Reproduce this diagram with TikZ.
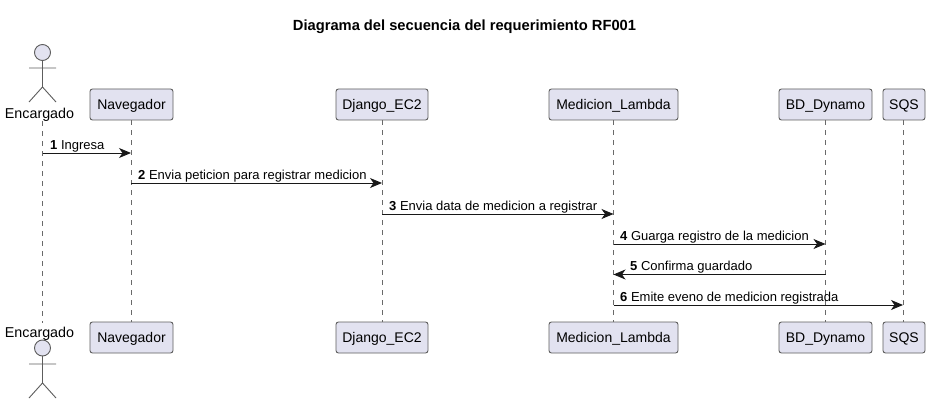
\documentclass[tikz,border=0pt]{standalone}
\usepackage{fontspec}
\setmainfont{Liberation Sans}
\usetikzlibrary{arrows.meta}
\definecolor{partfill}{HTML}{E2E2F0}
\definecolor{partline}{HTML}{181818}
\tikzset{
  part/.style={draw=partline!70, fill=partfill, rounded corners=2.5pt, line width=.9pt,
               minimum height=31pt, inner xsep=0pt, inner sep=0pt, text height=12pt, text depth=2pt,
               font=\fontsize{14}{16}\selectfont},
  stick/.style={draw=partline!70, line width=.9pt},
  life/.style={draw=partline!65, line width=.8pt, dash pattern=on 5pt off 5pt},
  msg/.style={draw=partline, line width=.9pt, -{Stealth[length=12pt,width=10pt,inset=3.5pt]}},
  msgtext/.style={anchor=base west, inner sep=0pt, font=\fontsize{13}{15}\selectfont},
  who/.style={inner sep=0pt, font=\fontsize{14.3}{16}\selectfont}
}
\begin{document}
\begin{tikzpicture}[x=1pt, y=-1pt]
  \useasboundingbox (0,0) rectangle (930,404);
  % title
  \node[inner sep=0pt, font=\fontsize{14.7}{17}\selectfont\bfseries] (title) at (464.5,26.5) {Diagrama del secuencia del requerimiento RF001};
  % participants, top row
  \node[part, minimum width=83pt] (navT) at (131.5,104.5) {Navegador};
  \node[part, minimum width=92pt] (djaT) at (382,104.5) {Django\_EC2};
  \node[part, minimum width=129pt] (medT) at (613.5,104.5) {Medicion\_Lambda};
  \node[part, minimum width=93pt] (bdT) at (825.5,104.5) {BD\_Dynamo};
  \node[part, minimum width=42pt] (sqsT) at (904,104.5) {SQS};
  % participants, bottom row
  \node[part, minimum width=83pt] (navB) at (131.5,337.5) {Navegador};
  \node[part, minimum width=92pt] (djaB) at (382,337.5) {Django\_EC2};
  \node[part, minimum width=129pt] (medB) at (613.5,337.5) {Medicion\_Lambda};
  \node[part, minimum width=93pt] (bdB) at (825.5,337.5) {BD\_Dynamo};
  \node[part, minimum width=42pt] (sqsB) at (904,337.5) {SQS};
  % actor labels
  \node[who] (encT) at (39.5,114.5) {Encargado};
  \node[who] (encB) at (39.5,333.5) {Encargado};
  % lifelines
  \draw[life] (42.5,121) coordinate (encA) -- (42.5,323) coordinate (encZ);
  \draw[life] (navT.south -| 131,0) -- (navB.north -| 131,0);
  \draw[life] (djaT.south) -- (djaB.north);
  \draw[life] (medT.south) -- (medB.north);
  \draw[life] (bdT.south) -- (bdB.north);
  \draw[life] (sqsT.south -| 903,0) -- (sqsB.north -| 903,0);
  % actor, top
  \draw[stick, fill=partfill] (42.5,52.5) circle (8);
  \draw[stick] (42.5,60.5) -- (42.5,87) (29,68) -- (56,68)
               (29,102) -- (42.5,87) -- (56,102);
  % actor, bottom
  \draw[stick, fill=partfill] (42.5,348) circle (8);
  \draw[stick] (42.5,356) -- (42.5,383) (29,364) -- (56,364)
               (29,398) -- (42.5,383) -- (56,398);
  % messages
  \coordinate (nav) at (131,0);
  \coordinate (sqs) at (903,0);
  \coordinate (y1) at (0,153);
  \coordinate (y2) at (0,183);
  \coordinate (y3) at (0,214);
  \coordinate (y4) at (0,244);
  \coordinate (y5) at (0,274.5);
  \coordinate (y6) at (0,305);
  \draw[msg] (encA |- y1) -- (nav |- y1);
  \draw[msg] (nav |- y2) -- (djaT |- y2);
  \draw[msg] (djaT |- y3) -- (medT |- y3);
  \draw[msg] (medT |- y4) -- (bdT |- y4);
  \draw[msg] (bdT |- y5) -- (medT |- y5);
  \draw[msg] (medT |- y6) -- (sqs |- y6);
  \node[msgtext] (m1) at (50,149.5) {\textbf{1} Ingresa};
  \node[msgtext] (m2) at (138,179.5) {\textbf{2} Envia peticion para registrar medicion};
  \node[msgtext] (m3) at (389,210.5) {\textbf{3} Envia data de medicion a registrar};
  \node[msgtext] (m4) at (620,240.5) {\textbf{4} Guarga registro de la medicion};
  \node[msgtext] (m5) at (630,270.5) {\textbf{5} Confirma guardado};
  \node[msgtext] (m6) at (620,301.5) {\textbf{6} Emite eveno de medicion registrada};
\end{tikzpicture}
\end{document}
